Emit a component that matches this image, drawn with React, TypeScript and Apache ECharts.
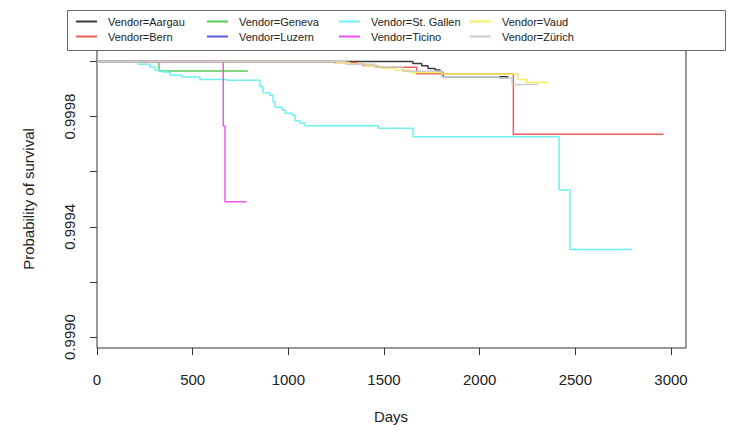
import React, { useEffect, useRef } from "react";
import * as echarts from "echarts";

// Vendor names (legend order)
const vendors = [
  "Vendor=Aargau",
  "Vendor=Bern",
  "Vendor=Geneva",
  "Vendor=Luzern",
  "Vendor=St. Gallen",
  "Vendor=Ticino",
  "Vendor=Vaud",
  "Vendor=Zürich",
];

const vendorColors = [
  "#3a3a3a",
  "#f25c5c",
  "#55cc55",
  "#5a5ae6",
  "#6ef0f0",
  "#ee55ee",
  "#f2ee66",
  "#cccccc",
];

// Kaplan–Meier step data: days and survival probability after each step
const aargauDays = [0, 1651, 1697, 1730, 1767, 1793, 1810, 2150];
const aargauSurv = [1, 0.999993, 0.999985, 0.999975, 0.999969, 0.999961, 0.999945, 0.999945];

const bernDays = [0, 1240, 1357, 1390, 1462, 1671, 2176, 2960];
const bernSurv = [1, 0.999996, 0.999992, 0.999986, 0.999979, 0.999956, 0.999736, 0.999736];

const genevaDays = [0, 324, 788];
const genevaSurv = [1, 0.999966, 0.999966];

const luzernDays = [0, 1233];
const luzernSurv = [1, 1];

const stGallenDays = [
  0, 215, 277, 303, 340, 382, 444, 538, 680, 852, 867, 904, 920, 930, 967, 983, 1019, 1035,
  1061, 1087, 1469, 1652, 2415, 2472, 2794,
];
const stGallenSurv = [
  1, 0.99999, 0.99998, 0.999968, 0.999962, 0.99995, 0.999944, 0.999935, 0.999932, 0.999909,
  0.999887, 0.999878, 0.999854, 0.999834, 0.999824, 0.999812, 0.999806, 0.999785, 0.999776,
  0.999767, 0.999758, 0.999727, 0.999534, 0.999318, 0.999318,
];

const ticinoDays = [0, 660, 669, 782];
const ticinoSurv = [1, 0.999766, 0.999491, 0.999491];

const vaudDays = [0, 1254, 1322, 1400, 1479, 1557, 1636, 1808, 2200, 2245, 2359];
const vaudSurv = [1, 0.999996, 0.999991, 0.999984, 0.999976, 0.999969, 0.99996, 0.999955, 0.999935, 0.999924, 0.999924];

const zurichDays = [0, 1300, 1450, 1600, 1800, 2100, 2170, 2305];
const zurichSurv = [1, 0.99999, 0.99998, 0.999965, 0.999945, 0.999939, 0.999917, 0.999917];

const xTicks = [0, 500, 1000, 1500, 2000, 2500, 3000];
const yTicks = [0.999, 0.9992, 0.9994, 0.9996, 0.9998, 1.0];
const yLabels = [0.999, 0.9994, 0.9998];

const allDays = [aargauDays, bernDays, genevaDays, luzernDays, stGallenDays, ticinoDays, vaudDays, zurichDays];
const allSurv = [aargauSurv, bernSurv, genevaSurv, luzernSurv, stGallenSurv, ticinoSurv, vaudSurv, zurichSurv];

const FONT = "'Liberation Sans', Arial, Helvetica, sans-serif";

export default function App() {
  const ref = useRef<HTMLDivElement>(null);

  useEffect(() => {
    if (!ref.current) return;
    const chart = echarts.init(ref.current, undefined, { renderer: "svg" });

    const series = vendors.map((name, i) => ({
      name,
      type: "line",
      step: "end",
      showSymbol: false,
      symbol: "none",
      data: allDays[i].map((d, j) => [d, allSurv[i][j]]),
      lineStyle: { width: 1.5, color: vendorColors[i] },
      itemStyle: { color: vendorColors[i] },
      emphasis: { disabled: true },
    }));

    const colLefts = [76, 207, 339, 470];
    const legends = [0, 1, 2, 3].map((c) => ({
      orient: "vertical",
      left: colLefts[c],
      top: 15,
      padding: 0,
      itemGap: 2,
      itemWidth: 21,
      itemHeight: 2,
      icon: "rect",
      selectedMode: false,
      data: [c * 2, c * 2 + 1].map((k) => ({
        name: vendors[k],
        icon: "rect",
        itemStyle: { color: vendorColors[k], opacity: 1 },
      })),
      textStyle: {
        fontSize: 11,
        lineHeight: 13,
        fontFamily: FONT,
        color: "#222",
        padding: [0, 0, 0, 6],
      },
    }));

    chart.setOption({
      animation: false,
      backgroundColor: "#ffffff",
      grid: {
        left: 97,
        right: 60,
        top: 50.5,
        bottom: 98,
        show: true,
        borderColor: "#333",
        borderWidth: 1,
        containLabel: false,
      },
      legend: legends,
      xAxis: {
        type: "value",
        min: 0,
        max: 3078.4,
        splitLine: { show: false },
        axisLine: { show: false },
        axisTick: {
          show: true,
          inside: false,
          length: 7,
          customValues: xTicks,
          lineStyle: { color: "#333" },
        },
        axisLabel: {
          customValues: xTicks,
          margin: 24,
          fontSize: 15,
          fontFamily: FONT,
          color: "#222",
          formatter: (v: number) => String(v),
        },
      },
      yAxis: {
        type: "value",
        min: 0.99896,
        max: 1.00004,
        splitLine: { show: false },
        axisLine: { show: false },
        axisTick: {
          show: true,
          inside: false,
          length: 7,
          customValues: yTicks,
          lineStyle: { color: "#333" },
        },
        axisLabel: {
          customValues: yLabels,
          rotate: 90,
          margin: 20,
          fontSize: 15,
          fontFamily: FONT,
          color: "#222",
          formatter: (v: number) => v.toFixed(4),
        },
      },
      graphic: [
        {
          type: "rect",
          shape: { x: 67.5, y: 10.5, width: 658, height: 40 },
          style: { fill: "none", stroke: "#666", lineWidth: 1 },
          silent: true,
          z: 10,
        },
        {
          type: "text",
          x: 391,
          y: 416,
          style: {
            text: "Days",
            fontSize: 15,
            fontFamily: FONT,
            fill: "#222",
            textAlign: "center",
            textVerticalAlign: "middle",
          },
        },
        {
          type: "text",
          x: 28,
          y: 199,
          rotation: Math.PI / 2,
          style: {
            text: "Probability of survival",
            fontSize: 15,
            fontFamily: FONT,
            fill: "#222",
            textAlign: "center",
            textVerticalAlign: "middle",
          },
        },
      ],
      series,
    });

    return () => chart.dispose();
  }, []);

  return (
    <div
      ref={ref}
      style={{ position: "fixed", left: 0, top: 0, width: 746, height: 446 }}
    />
  );
}
